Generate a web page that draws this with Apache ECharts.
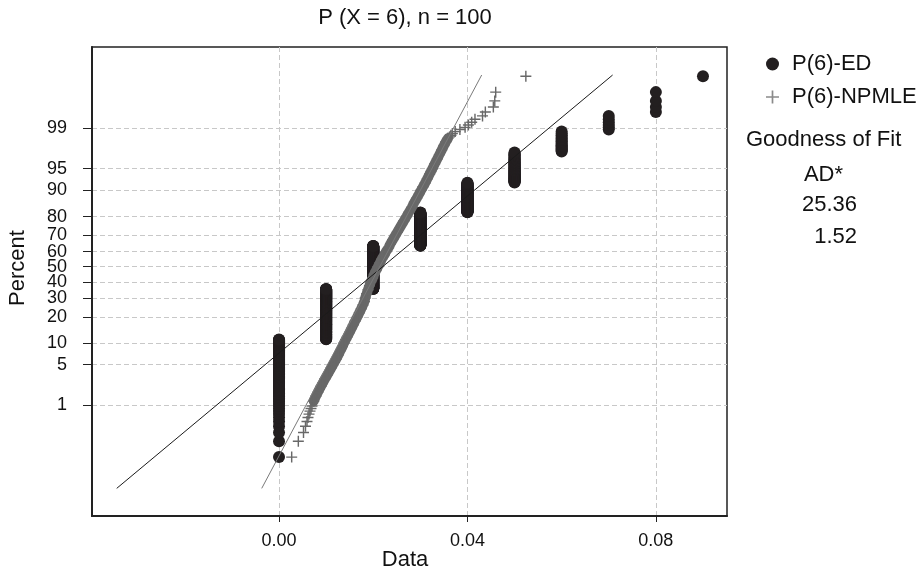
<!DOCTYPE html>
<html><head><meta charset="utf-8">
<script src="https://cdn.jsdelivr.net/npm/echarts@6/dist/echarts.min.js"></script>
<style>html,body{margin:0;padding:0;background:#fff}#c{width:922px;height:575px}</style>
</head><body><div id="c"></div>
<script>
// ---------------- data ----------------
const titleText = 'P (X = 6), n = 100';
const xName = 'Data';
const yName = 'Percent';
const seriesNames = ['P(6)-ED', 'P(6)-NPMLE'];
const xTicks = [0, 0.04, 0.08];
const pctTicks = [1, 5, 10, 20, 30, 40, 50, 60, 70, 80, 90, 95, 99];
const xRange = [-0.0397, 0.0951];
const yPctRange = [0.00144, 99.98862];

// P(6)-ED: discrete estimates (k/100) and how many of the 1000 simulated values fall on each
const edValues = [0, 0.01, 0.02, 0.03, 0.04, 0.05, 0.06, 0.07, 0.08, 0.09];
const edCounts = [111, 243, 283, 182, 102, 52, 16, 6, 4, 1];

// P(6)-NPMLE: values at given percents
const npmlePct = [0.07,0.17,0.27,0.37,0.47,0.57,0.67,0.77,0.87,0.97,1.2,1.5,1.75,2,2.25,2.5,3,3.5,4,4.5,5,5.5,6,7,8,9,10,11,12,13.5,15,16.5,18,20,22,24,26,28,30,32.5,35,37.5,40,42.5,45,47.5,50,52.5,55,57.5,60,62.5,65,67.5,70,72,74,76,78,80,82,84,86,87.5,89,90,91,92,93,94,94.5,95,95.75,96.5,97,97.5,97.9,98.2,98.45,98.53,98.63,98.73,98.83,98.93,99.03,99.13,99.23,99.33,99.43,99.53,99.63,99.73,99.83,99.93];
const npmleX = [0.00269,0.00410,0.00520,0.00562,0.00594,0.00615,0.00637,0.00658,0.00679,0.00700,0.00736,0.00785,0.00823,0.00859,0.00891,0.00923,0.00976,0.01029,0.01072,0.01110,0.01146,0.01178,0.01210,0.01263,0.01305,0.01347,0.01379,0.01415,0.01449,0.01496,0.01538,0.01577,0.01613,0.01662,0.01704,0.01746,0.01782,0.01814,0.0183,0.0186,0.0189,0.0192,0.0195,0.0199,0.0202,0.0206,0.0210,0.0214,0.0218,0.0223,0.0227,0.02326,0.02366,0.02417,0.02468,0.02512,0.02557,0.02604,0.02653,0.02706,0.02759,0.02818,0.02873,0.02924,0.02979,0.03015,0.03056,0.03102,0.03147,0.03198,0.03225,0.03255,0.03304,0.03361,0.03404,0.03455,0.03501,0.03542,0.0359,0.0362,0.0365,0.0368,0.0374,0.0384,0.0395,0.0402,0.0409,0.0416,0.0432,0.0438,0.0455,0.0458,0.0460,0.0524];
// percent span where the NPMLE crosses pile up into a solid band
const npmleDensePct = [1.2, 98.45];

// fitted normal lines (mean, sd) and the percent span they are drawn over
const edFit = { mean: 0.0220, sd: 0.01518 };
const npmleFit = { mean: 0.02137, sd: 0.006733 };
const fitPctRange = [0.01, 99.935];

const gofTitle = 'Goodness of Fit';
const gofHeader = 'AD*';
const adValues = ['25.36', '1.52'];

// ---------------- helpers ----------------
function probit(p) {
  const a=[-3.969683028665376e+01,2.209460984245205e+02,-2.759285104469687e+02,1.383577518672690e+02,-3.066479806614716e+01,2.506628277459239e+00];
  const b=[-5.447609879822406e+01,1.615858368580409e+02,-1.556989798598866e+02,6.680131188771972e+01,-1.328068155288572e+01];
  const c=[-7.784894002430293e-03,-3.223964580411365e-01,-2.400758277161838e+00,-2.549732539343734e+00,4.374664141464968e+00,2.938163982698783e+00];
  const d=[7.784695709041462e-03,3.224671290700398e-01,2.445134137142996e+00,3.754408661907416e+00];
  const pl=0.02425, ph=1-pl; let q, r;
  if (p < pl) { q=Math.sqrt(-2*Math.log(p)); return (((((c[0]*q+c[1])*q+c[2])*q+c[3])*q+c[4])*q+c[5])/((((d[0]*q+d[1])*q+d[2])*q+d[3])*q+1); }
  if (p <= ph) { q=p-0.5; r=q*q; return (((((a[0]*r+a[1])*r+a[2])*r+a[3])*r+a[4])*r+a[5])*q/(((((b[0]*r+b[1])*r+b[2])*r+b[3])*r+b[4])*r+1); }
  q=Math.sqrt(-2*Math.log(1-p)); return -(((((c[0]*q+c[1])*q+c[2])*q+c[3])*q+c[4])*q+c[5])/((((d[0]*q+d[1])*q+d[2])*q+d[3])*q+1);
}
const zOf = pct => probit(pct / 100);

const N = edCounts.reduce((s, v) => s + v, 0);
const plotPos = r => 100 * (r - 0.3) / (N + 0.4);   // median-rank plotting position
const edData = [];
let rank = 1;
edValues.forEach((v, i) => {
  for (let k = 0; k < edCounts[i]; k++) { edData.push([v, zOf(plotPos(rank))]); rank++; }
});
const npData = npmleX.map((x, i) => [x, zOf(npmlePct[i])]);
const npBand = npData.filter((d, i) => npmlePct[i] >= npmleDensePct[0] && npmlePct[i] <= npmleDensePct[1]);
const fitLine = f => fitPctRange.map(p => { const z = zOf(p); return [f.mean + f.sd * z, z]; });
const tickZ = pctTicks.map(zOf);

const FONT = '"Liberation Sans", Arial, Helvetica, sans-serif';
const plusPath = 'path://M0,4.35H10V5.65H0Z M4.35,0H5.65V10H4.35Z';
const gridDash = { color: '#c8c8c8', width: 1, type: [5, 3] };
const GRAY = '#686868';

const chart = echarts.init(document.getElementById('c'), null, { renderer: 'canvas' });
chart.setOption({
  animation: false,
  backgroundColor: '#fff',
  textStyle: { fontFamily: FONT },
  grid: { left: 92, right: 195, top: 47, bottom: 59, show: true, borderColor: '#222', borderWidth: 1.5, containLabel: false },
  legend: {
    orient: 'vertical', left: 761, top: 48, itemWidth: 13, itemHeight: 13, itemGap: 11,
    textStyle: { fontSize: 22, color: '#111', fontFamily: FONT, padding: [0, 0, 0, 8] },
    data: [
      { name: seriesNames[0], icon: 'circle', itemStyle: { color: '#231f20', opacity: 1 } },
      { name: seriesNames[1], icon: plusPath, itemStyle: { color: '#8a8a8a', opacity: 1 } }
    ],
    selectedMode: false
  },
  xAxis: {
    type: 'value', min: xRange[0], max: xRange[1],
    axisLine: { show: true, onZero: false, lineStyle: { color: '#222', width: 2 } },
    axisTick: { show: true, length: 6, customValues: xTicks, lineStyle: { color: '#222', width: 1 } },
    axisLabel: { customValues: xTicks, formatter: v => v.toFixed(2), fontSize: 18, color: '#111', margin: 16, fontFamily: FONT },
    splitLine: { show: true, lineStyle: gridDash }
  },
  yAxis: {
    type: 'value', min: zOf(yPctRange[0]), max: zOf(yPctRange[1]),
    axisLine: { show: true, onZero: false, lineStyle: { color: '#222', width: 2 } },
    axisTick: { show: true, length: 9, customValues: tickZ, lineStyle: { color: '#222', width: 1 } },
    axisLabel: {
      customValues: tickZ, fontSize: 18, color: '#111', margin: 25, fontFamily: FONT,
      formatter: v => { let best = 0; tickZ.forEach((t, i) => { if (Math.abs(t - v) < Math.abs(tickZ[best] - v)) best = i; }); return String(pctTicks[best]); }
    },
    splitLine: { show: true, lineStyle: gridDash }
  },
  series: [
    { name: seriesNames[0], type: 'scatter', data: edData, symbol: 'circle', symbolSize: 12,
      itemStyle: { color: '#231f20', opacity: 1 }, z: 2, silent: true, emphasis: { disabled: true } },
    { name: 'NPMLE band', type: 'line', data: npBand, symbol: 'none', smooth: false,
      lineStyle: { color: GRAY, width: 10, cap: 'round', join: 'round', opacity: 1 }, z: 3, silent: true },
    { name: seriesNames[1], type: 'scatter', data: npData, symbol: plusPath, symbolSize: 11,
      itemStyle: { color: GRAY, opacity: 1 }, z: 3, silent: true, emphasis: { disabled: true } },
    { name: 'ED fit', type: 'line', data: fitLine(edFit), symbol: 'none', lineStyle: { color: '#1a1a1a', width: 1 }, z: 4, silent: true },
    { name: 'NPMLE fit', type: 'line', data: fitLine(npmleFit), symbol: 'none', lineStyle: { color: '#7a7a7a', width: 1 }, z: 4, silent: true }
  ],
  graphic: [
    { type: 'text', x: 405, y: 18, style: { text: titleText, font: '22px ' + FONT, fill: '#111', align: 'center', verticalAlign: 'middle' } },
    { type: 'text', x: 405, y: 560, style: { text: xName, font: '22px ' + FONT, fill: '#111', align: 'center', verticalAlign: 'middle' } },
    { type: 'text', x: 18, y: 268, rotation: Math.PI / 2, style: { text: yName, font: '22px ' + FONT, fill: '#111', align: 'center', verticalAlign: 'middle' } },
    { type: 'text', x: 746, y: 140, style: { text: gofTitle, font: '22px ' + FONT, fill: '#111', align: 'left', verticalAlign: 'middle' } },
    { type: 'text', x: 823.5, y: 175, style: { text: gofHeader, font: '22px ' + FONT, fill: '#111', align: 'center', verticalAlign: 'middle' } },
    { type: 'text', x: 857, y: 205, style: { text: adValues[0], font: '22px ' + FONT, fill: '#111', align: 'right', verticalAlign: 'middle' } },
    { type: 'text', x: 857, y: 236.5, style: { text: adValues[1], font: '22px ' + FONT, fill: '#111', align: 'right', verticalAlign: 'middle' } }
  ]
});
</script></body></html>
